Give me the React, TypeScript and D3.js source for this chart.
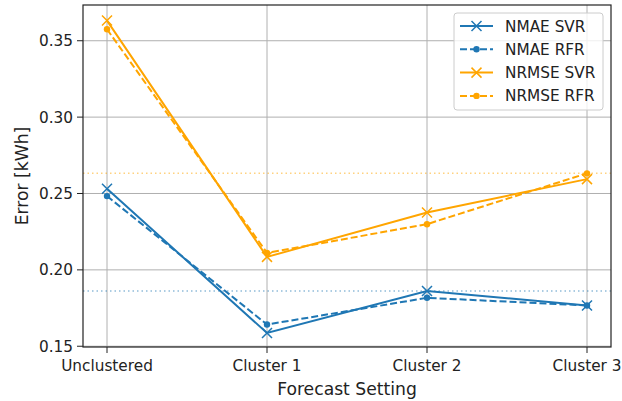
import React from "react";
import * as d3 from "d3";

const categories = ["Unclustered", "Cluster 1", "Cluster 2", "Cluster 3"];
const nmaeSvr = [0.2531, 0.1587, 0.1862, 0.1767];
const nmaeRfr = [0.2483, 0.1642, 0.1817, 0.1767];
const nrmseSvr = [0.3632, 0.2085, 0.2376, 0.2594];
const nrmseRfr = [0.3575, 0.2111, 0.2299, 0.2632];
const refLines = [
  { value: 0.1862, color: "#1f77b4" },
  { value: 0.2632, color: "#ffa500" },
];
const yTicks = [0.15, 0.2, 0.25, 0.3, 0.35];

const W = 622;
const H = 401;
const M = { left: 83, right: 611, top: 5, bottom: 347 };
const FONT = "DejaVu Sans, sans-serif";

type Series = { name: string; values: number[]; color: string; dashed: boolean; marker: "x" | "dot" };
const series: Series[] = [
  { name: "NMAE SVR", values: nmaeSvr, color: "#1f77b4", dashed: false, marker: "x" },
  { name: "NMAE RFR", values: nmaeRfr, color: "#1f77b4", dashed: true, marker: "dot" },
  { name: "NRMSE SVR", values: nrmseSvr, color: "#ffa500", dashed: false, marker: "x" },
  { name: "NRMSE RFR", values: nrmseRfr, color: "#ffa500", dashed: true, marker: "dot" },
];

function Marker({ x, y, kind, color }: { x: number; y: number; kind: "x" | "dot"; color: string }) {
  if (kind === "dot") return <circle cx={x} cy={y} r={3.2} fill={color} />;
  const s = 5;
  return (
    <path
      d={`M${x - s},${y - s}L${x + s},${y + s}M${x - s},${y + s}L${x + s},${y - s}`}
      stroke={color}
      strokeWidth={1.5}
      fill="none"
    />
  );
}

export default function App() {
  const n = categories.length;
  const x = d3
    .scaleLinear()
    .domain([-0.15, n - 1 + 0.15])
    .range([M.left, M.right]);
  const y = d3.scaleLinear().domain([0.1495, 0.3734]).range([M.bottom, M.top]);
  const line = d3
    .line<number>()
    .x((_, i) => x(i))
    .y((d) => y(d));

  const legendX = 454;
  const legendY = 13;
  const rowH = 23.3;

  return (
    <svg width={W} height={H} style={{ position: "absolute", left: 0, top: 0, background: "#fff" }}>
      {/* grid */}
      {categories.map((_, i) => (
        <line key={"gx" + i} x1={x(i)} x2={x(i)} y1={M.top} y2={M.bottom} stroke="#b0b0b0" strokeWidth={1} />
      ))}
      {yTicks.map((t) => (
        <line key={"gy" + t} x1={M.left} x2={M.right} y1={y(t)} y2={y(t)} stroke="#b0b0b0" strokeWidth={1} />
      ))}
      {/* reference lines */}
      {refLines.map((r) => (
        <line
          key={"r" + r.value}
          x1={M.left}
          x2={M.right}
          y1={y(r.value)}
          y2={y(r.value)}
          stroke={r.color}
          strokeOpacity={0.5}
          strokeWidth={1.5}
          strokeDasharray="1.5,3"
        />
      ))}
      {/* series */}
      {series.map((s) => (
        <g key={s.name}>
          <path
            d={line(s.values) ?? ""}
            fill="none"
            stroke={s.color}
            strokeWidth={2}
            strokeDasharray={s.dashed ? "7,3" : undefined}
          />
          {s.values.map((v, i) => (
            <Marker key={i} x={x(i)} y={y(v)} kind={s.marker} color={s.color} />
          ))}
        </g>
      ))}
      {/* frame */}
      <rect x={M.left} y={M.top} width={M.right - M.left} height={M.bottom - M.top} fill="none" stroke="#222" strokeWidth={1.2} />
      {/* y ticks */}
      {yTicks.map((t) => (
        <g key={"yt" + t}>
          <line x1={M.left - 6} x2={M.left} y1={y(t)} y2={y(t)} stroke="#222" strokeWidth={1} />
          <text x={M.left - 10} y={y(t)} dy="0.36em" textAnchor="end" fontFamily={FONT} fontSize={15.3} fill="#222">
            {d3.format(".2f")(t)}
          </text>
        </g>
      ))}
      {/* x ticks */}
      {categories.map((c, i) => (
        <g key={"xt" + c}>
          <line x1={x(i)} x2={x(i)} y1={M.bottom} y2={M.bottom + 6} stroke="#222" strokeWidth={1} />
          <text x={x(i)} y={M.bottom + 18.5} dy="0.36em" textAnchor="middle" fontFamily={FONT} fontSize={15.3} fill="#222">
            {c}
          </text>
        </g>
      ))}
      {/* axis labels */}
      <text x={(M.left + M.right) / 2} y={395} textAnchor="middle" fontFamily={FONT} fontSize={17.2} fill="#222">
        Forecast Setting
      </text>
      <text
        transform={`translate(28,${(M.top + M.bottom) / 2}) rotate(-90)`}
        textAnchor="middle"
        fontFamily={FONT}
        fontSize={17.2}
        fill="#222"
      >
        Error [kWh]
      </text>
      {/* legend */}
      <rect x={legendX} y={legendY} width={149} height={97} rx={3} fill="#fff" fillOpacity={0.8} stroke="#ccc" strokeWidth={1} />
      {series.map((s, i) => {
        const cy = legendY + 13 + i * rowH;
        return (
          <g key={"lg" + s.name}>
            <line
              x1={legendX + 6}
              x2={legendX + 39}
              y1={cy}
              y2={cy}
              stroke={s.color}
              strokeWidth={2}
              strokeDasharray={s.dashed ? "7,3" : undefined}
            />
            <Marker x={legendX + 22.5} y={cy} kind={s.marker} color={s.color} />
            <text x={legendX + 51} y={cy} dy="0.36em" fontFamily={FONT} fontSize={15.3} fill="#222">
              {s.name}
            </text>
          </g>
        );
      })}
    </svg>
  );
}
